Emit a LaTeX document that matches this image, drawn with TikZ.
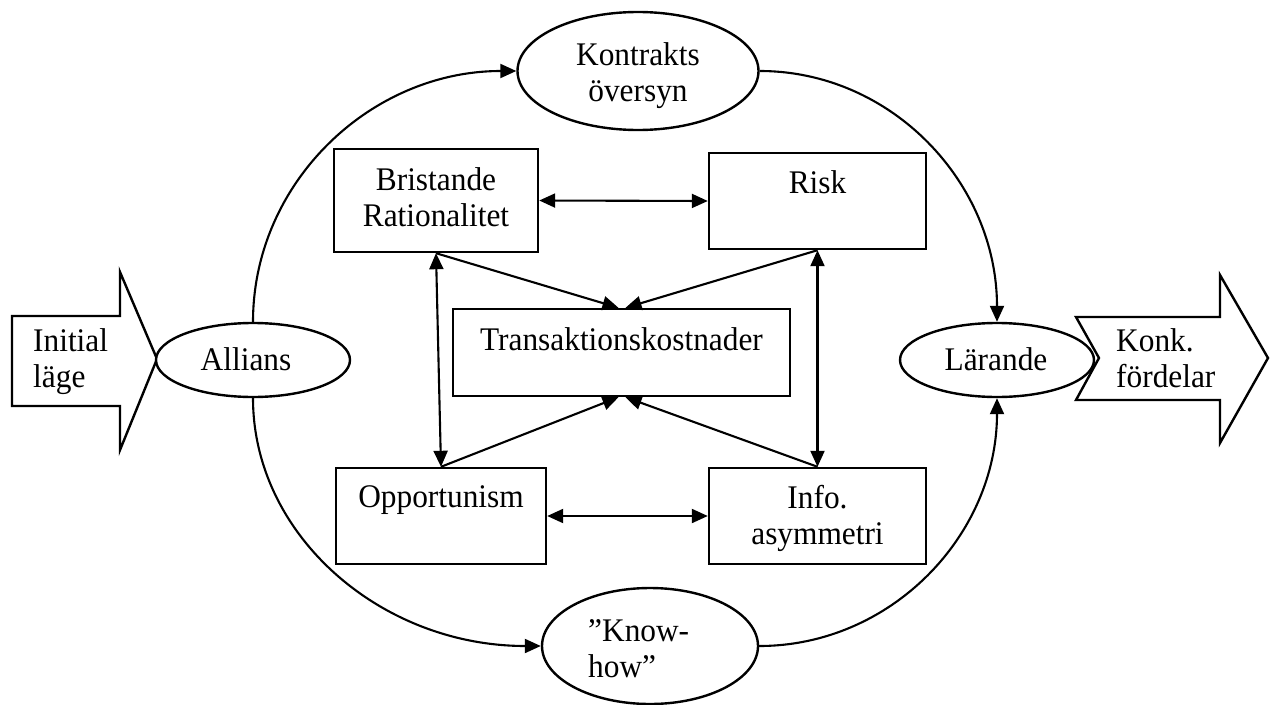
\documentclass[tikz,border=0pt]{standalone}
\usepackage{fontspec}
\setmainfont[FakeStretch=0.95]{Liberation Serif}
\usetikzlibrary{arrows.meta,shapes.geometric,calc}
\begin{document}
\begin{tikzpicture}[x=1pt,y=-1pt,
  every node/.style={font=\fontsize{33}{36}\selectfont},
  box/.style={draw,rectangle,line width=2.4pt,inner sep=0pt,fill=white},
  oval/.style={draw,ellipse,line width=2.4pt,inner sep=0pt,fill=white},
  lbl/.style={inner sep=0pt,align=center,anchor=north},
  con/.style={line width=2.1pt},
  arr/.style={-{Triangle[length=16pt,width=14pt]}},
  dbl/.style={{Triangle[length=16pt,width=14pt]}-{Triangle[length=16pt,width=14pt]}},
  blockarrow/.style={draw,line width=2.4pt,line join=miter,fill=white}
]
\useasboundingbox (0,0) rectangle (1274,704);

% block arrows
\draw[blockarrow] (12,316) -- (120,316) -- (120,272) -- (157,359) -- (120,450) -- (120,406) -- (12,406) -- cycle;
\draw[blockarrow] (1076,317) -- (1220,317) -- (1220,275) -- (1268,358) -- (1220,443) -- (1220,400) -- (1076,400) -- (1099,358) -- cycle;

% ovals
\node[oval,minimum width=241pt,minimum height=118pt] (ko) at (638,71) {};
\node[oval,minimum width=216pt,minimum height=116pt] (kh) at (650,646) {};
\node[oval,minimum width=194pt,minimum height=74pt] (al) at (253,360) {};
\node[oval,minimum width=194pt,minimum height=74pt] (la) at (997,360) {};

% boxes
\node[box,minimum width=204pt,minimum height=103pt] (br) at (436,200.5) {};
\node[box,minimum width=217pt,minimum height=96pt] (ri) at (817.5,201) {};
\node[box,minimum width=337pt,minimum height=87pt] (tk) at (621.5,352.5) {};
\node[box,minimum width=210pt,minimum height=96pt] (op) at (441,516) {};
\node[box,minimum width=217pt,minimum height=96pt] (in) at (817.5,516) {};

% big loop
\draw[con,arr] (al.north) .. controls +(0,-139) and +(-146,0) .. (ko.west);
\draw[con,arr] (ko.east) .. controls +(132,0) and +(0,-139) .. (la.north);
\draw[con,arr] (al.south) .. controls +(0,137) and +(-160,0) .. (kh.west);
\draw[con,arr] (kh.east) .. controls +(132,0) and +(0,137) .. (la.south);

% inner connectors
\draw[con,dbl] (br.east) -- (ri.west);
\draw[con,dbl] (op.east) -- (in.west);
\draw[con,dbl] (br.south) -- (op.north);
\draw[con,dbl] (ri.south) -- (in.north);
\draw[con,arr] (br.south) -- ($(tk.north)+(-3,0)$);
\draw[con,arr] (ri.south) -- ($(tk.north)+(4,0)$);
\draw[con,arr] (op.north) -- ($(tk.south)+(-3,0)$);
\draw[con,arr] (in.north) -- ($(tk.south)+(4,0)$);

% texts
\node[lbl] (tbr) at (436,167.5) {Bristande\\Rationalitet};
\node[lbl] (tri) at (817.5,170.5) {Risk};
\node[lbl] (ttk) at (621.5,327.5) {Transaktionskostnader};
\node[lbl] (top) at (441,485.5) {Opportunism};
\node[lbl] (tin) at (817.5,485.5) {Info.\\asymmetri};
\node[lbl] (tko) at (638,42.5) {Kontrakts\\översyn};
\node[lbl,anchor=north west,align=left] (tkh) at (588,619.5) {”Know-\\how”};
\node[lbl,anchor=base] (tal) at (246,370) {Allians};
\node[lbl,anchor=base] (tla) at (996,370) {Lärande};
\node[lbl,anchor=north west,align=left] (tin0) at (33,328.5) {Initial\\läge};
\node[lbl,anchor=north west,align=left] (tkf) at (1116,328.5) {Konk.\\fördelar};
\end{tikzpicture}
\end{document}
